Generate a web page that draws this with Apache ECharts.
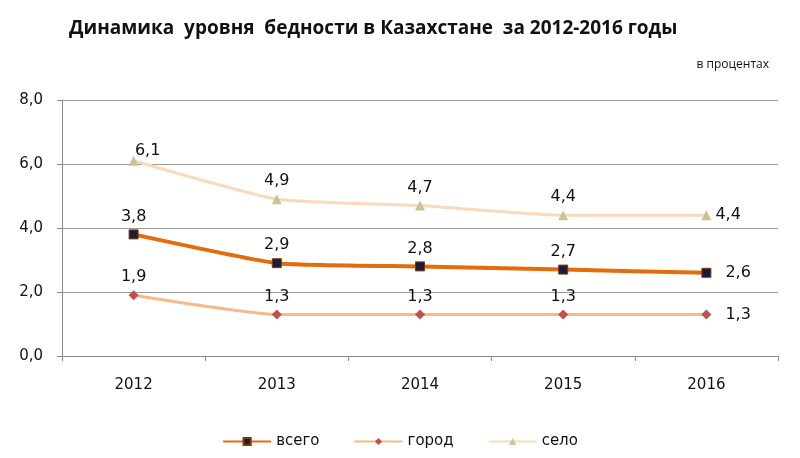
<!DOCTYPE html>
<html><head><meta charset="utf-8">
<script src="https://cdn.jsdelivr.net/npm/echarts@6/dist/echarts.min.js"></script>
<style>html,body{margin:0;padding:0;background:#fff}#c{width:800px;height:458px}</style>
</head><body><div id="c"></div>
<script>
const categories = ['2012','2013','2014','2015','2016'];
const vsego = [3.8, 2.9, 2.8, 2.7, 2.6];
const gorod = [1.9, 1.3, 1.3, 1.3, 1.3];
const selo = [6.1, 4.9, 4.7, 4.4, 4.4];
const yTicks = [0, 2, 4, 6, 8];

const fmt = v => v.toFixed(1).replace('.', ',');
const font = 'DejaVu Sans';
function labeled(arr, lastDist, firstOffset) {
  return arr.map((v, i) => {
    let label;
    if (i === arr.length - 1) label = {position: 'right', distance: lastDist};
    else label = {position: 'top', distance: 5};
    if (i === 0 && firstOffset) label.offset = firstOffset;
    return {value: v, label};
  });
}
const chart = echarts.init(document.getElementById('c'));
chart.setOption({
  animation: false,
  title: [
    {text: 'Динамика  уровня  бедности в Казахстане  за 2012-2016 годы', left: 64, top: 14,
     textStyle: {fontFamily: 'Open Sans', fontWeight: 'bold', fontSize: 19, color: '#111'}},
    {text: 'в процентах', right: 26, top: 54,
     textStyle: {fontFamily: 'Open Sans', fontWeight: 'normal', fontSize: 12, color: '#111'}}
  ],
  grid: {left: 62, right: 22, top: 100, bottom: 102},
  legend: {
    bottom: 4, left: 'center', itemGap: 34, itemWidth: 48, itemHeight: 9,
    lineStyle: {width: 2},
    textStyle: {fontFamily: font, fontSize: 15, color: '#111'},
    data: ['всего', 'город', 'село']
  },
  xAxis: {
    type: 'category', data: categories, boundaryGap: true,
    axisLine: {lineStyle: {color: '#888'}},
    axisTick: {show: true, length: 5, lineStyle: {color: '#888'}},
    axisLabel: {fontFamily: font, fontSize: 15, color: '#111', margin: 22}
  },
  yAxis: {
    type: 'value', min: yTicks[0], max: yTicks[yTicks.length - 1], interval: 2,
    axisLine: {show: true, lineStyle: {color: '#888'}},
    axisTick: {show: true, length: 5, lineStyle: {color: '#888'}},
    splitLine: {lineStyle: {color: '#999'}},
    axisLabel: {fontFamily: font, fontSize: 15, color: '#111', margin: 19, formatter: v => fmt(v)}
  },
  series: [
    {name: 'всего', type: 'line', data: labeled(vsego, 14), smooth: 0.15,
     symbol: 'rect', symbolSize: 9, z: 3,
     lineStyle: {color: '#E46C0A', width: 4},
     itemStyle: {color: '#1c1a3a', borderColor: '#7a3a10', borderWidth: 1},
     label: {show: true, fontFamily: font, fontSize: 16, color: '#111', formatter: p => fmt(p.value)}},
    {name: 'город', type: 'line', data: labeled(gorod, 14), smooth: 0.15,
     symbol: 'diamond', symbolSize: 10,
     lineStyle: {color: '#F6B98C', width: 3},
     itemStyle: {color: '#C0504D'},
     label: {show: true, fontFamily: font, fontSize: 16, color: '#111', formatter: p => fmt(p.value)}},
    {name: 'село', type: 'line', data: labeled(selo, 4, [14, 8]), smooth: 0.15,
     symbol: 'triangle', symbolSize: 10,
     lineStyle: {color: '#FBD9BE', width: 3},
     itemStyle: {color: '#C9C497'},
     label: {show: true, fontFamily: font, fontSize: 16, color: '#111', formatter: p => fmt(p.value)}}
  ]
});
</script></body></html>
